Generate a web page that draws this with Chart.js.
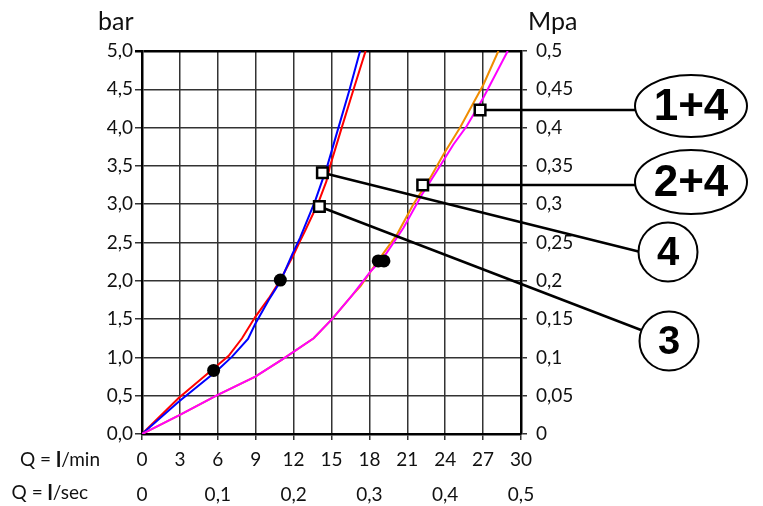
<!DOCTYPE html>
<html>
<head>
<meta charset="utf-8">
<script src="https://cdn.jsdelivr.net/npm/chart.js@4.4.0/dist/chart.umd.min.js"></script>
<style>
  html, body { margin: 0; padding: 0; background: #fff; }
  #chart { display: block; }
</style>
</head>
<body>
<canvas id="chart" width="763" height="506"></canvas>
<script>
// Pressure loss curves: flow (l/min) against pressure (bar)
const redFlow = [0, 2.9, 6.0, 6.86, 7.92, 8.97, 10.03, 10.95, 12.0, 12.51, 12.93, 13.96, 14.6, 14.89, 15.81, 16.73, 17.7];
const redBar = [0, 0.47, 0.90, 1.02, 1.25, 1.53, 1.77, 2.01, 2.34, 2.52, 2.66, 3.02, 3.30, 3.50, 4.00, 4.49, 5.0];

const blueFlow = [0, 2.9, 6.0, 7.13, 8.39, 8.97, 10.03, 10.95, 11.88, 12.51, 13.7, 14.67, 15.55, 16.42, 17.26];
const blueBar = [0, 0.42, 0.835, 1.01, 1.24, 1.44, 1.75, 1.99, 2.34, 2.56, 3.04, 3.50, 4.00, 4.49, 5.0];

const orangeFlow = [0, 3, 6, 8.97, 11.08, 13.59, 15.04, 16.63, 17.3, 18.84, 20.17, 21.48, 22.8, 23.86, 25.18, 26.23, 27.02, 28.21];
const orangeBar = [0, 0.25, 0.51, 0.75, 0.97, 1.25, 1.50, 1.81, 1.93, 2.30, 2.60, 3.0, 3.34, 3.65, 4.0, 4.32, 4.56, 5.0];

const magentaFlow = [0, 3, 6, 8.97, 11.08, 13.59, 15.04, 16.63, 18.08, 19.1, 20.69, 22.14, 23.33, 24.65, 25.71, 27.02, 28.95];
const magentaBar = [0, 0.25, 0.51, 0.75, 0.97, 1.25, 1.50, 1.81, 2.12, 2.30, 2.69, 3.12, 3.43, 3.78, 4.02, 4.39, 5.0];

const dotFlow = [5.67, 10.95, 18.7, 19.15];
const dotBar = [0.83, 2.01, 2.26, 2.26];

const markFlow = [14.28, 14.04, 22.22, 26.76];
const markBar = [3.41, 2.97, 3.25, 4.23];
const markLabels = ['4', '3', '2+4', '1+4'];

const lminTicks = ['0', '3', '6', '9', '12', '15', '18', '21', '24', '27', '30'];
const lsecTicks = ['0', '0,1', '0,2', '0,3', '0,4', '0,5'];
const barTicks = ['0,0', '0,5', '1,0', '1,5', '2,0', '2,5', '3,0', '3,5', '4,0', '4,5', '5,0'];
const mpaTicks = ['0', '0,05', '0,1', '0,15', '0,2', '0,25', '0,3', '0,35', '0,4', '0,45', '0,5'];

const FONT = 'Lato, "Open Sans", sans-serif';

function pts(xs, ys) {
    return xs.map((x, i) => ({ x: x, y: ys[i] }));
}

// label bubbles (canvas pixels), same order as markLabels
const bubbles = [
    { cx: 668, cy: 252, rx: 29.5, ry: 29.5, size: 40, ex: 638.5, ey: 251.5 },
    { cx: 669, cy: 341, rx: 29.5, ry: 29.5, size: 40, ex: 641, ey: 330 },
    { cx: 691, cy: 182, rx: 56, ry: 32, size: 44, ex: 635, ey: null },
    { cx: 691, cy: 106, rx: 56, ry: 31, size: 44, ex: 635, ey: null }
];

function curve(data, color) {
    return {
        data: data,
        showLine: true,
        borderColor: color,
        borderWidth: 2,
        pointRadius: 0,
        tension: 0
    };
}

const annotate = {
    id: 'annotate',
    afterDatasetDraw(chart, args) {
        // leader lines go under the square markers (dataset 0)
        if (args.index !== 1) return;
        const ctx = chart.ctx;
        const xs = chart.scales.x, ys = chart.scales.y;
        ctx.save();
        ctx.strokeStyle = '#000';
        ctx.lineWidth = 2.5;
        markFlow.forEach((f, i) => {
            const b = bubbles[i];
            const px = xs.getPixelForValue(f);
            const py = ys.getPixelForValue(markBar[i]);
            ctx.beginPath();
            ctx.moveTo(px, py);
            ctx.lineTo(b.ex, b.ey === null ? py : b.ey);
            ctx.stroke();
        });
        ctx.restore();
    },
    afterDraw(chart) {
        const ctx = chart.ctx;
        const area = chart.chartArea;
        ctx.save();

        // bubbles
        bubbles.forEach((b, i) => {
            ctx.beginPath();
            ctx.ellipse(b.cx, b.cy, b.rx, b.ry, 0, 0, Math.PI * 2);
            ctx.fillStyle = '#fff';
            ctx.fill();
            ctx.lineWidth = 2;
            ctx.strokeStyle = '#000';
            ctx.stroke();
            ctx.fillStyle = '#000';
            ctx.font = 'bold ' + b.size + 'px "Liberation Sans", Arial, sans-serif';
            ctx.textAlign = 'center';
            ctx.textBaseline = 'middle';
            ctx.fillText(markLabels[i], b.cx, b.cy + 2);
        });

        // axis units
        ctx.fillStyle = '#111';
        ctx.font = '25px ' + FONT;
        ctx.textAlign = 'left';
        ctx.textBaseline = 'alphabetic';
        ctx.fillText('bar', area.left - 44, 30);
        ctx.fillText('Mpa', area.right + 7, 30);

        // row captions for the two flow scales
        const rows = [['/min', area.bottom + 26, 100], ['/sec', area.bottom + 59, 88]];
        ctx.textBaseline = 'middle';
        rows.forEach(r => {
            ctx.font = '19px ' + FONT;
            const tail = r[0];
            const wTail = ctx.measureText(tail).width;
            const wHead = ctx.measureText('Q = ').width;
            ctx.font = 'bold 21px ' + FONT;
            const wL = ctx.measureText('l').width;
            let x = r[2] - wTail - wL - wHead;
            ctx.font = '19px ' + FONT;
            ctx.fillText('Q = ', x, r[1]);
            x += wHead;
            ctx.font = 'bold 21px ' + FONT;
            ctx.fillText('l', x, r[1]);
            x += wL;
            ctx.font = '19px ' + FONT;
            ctx.fillText(tail, x, r[1]);
        });
        ctx.restore();
    }
};

const gridColor = '#333';
const tickFont = { family: FONT, size: 19 };

new Chart(document.getElementById('chart'), {
    type: 'scatter',
    data: {
        datasets: [
            {
                data: pts(markFlow, markBar),
                pointStyle: 'rect',
                pointRadius: 7.5,
                backgroundColor: '#fff',
                borderColor: '#000',
                borderWidth: 2.5
            },
            {
                data: pts(dotFlow, dotBar),
                pointRadius: 6.5,
                backgroundColor: '#000',
                borderWidth: 0
            },
            curve(pts(magentaFlow, magentaBar), '#ff00ff'),
            curve(pts(orangeFlow, orangeBar), '#f08c00'),
            curve(pts(blueFlow, blueBar), '#0000ff'),
            curve(pts(redFlow, redBar), '#ff0000')
        ]
    },
    options: {
        responsive: false,
        animation: false,
        layout: { padding: { top: 51, left: 0, right: 0, bottom: 0 } },
        plugins: { legend: { display: false }, tooltip: { enabled: false } },
        scales: {
            x: {
                type: 'linear',
                position: 'bottom',
                min: 0, max: 30,
                afterFit: s => { s.height = 36; },
                ticks: {
                    stepSize: 3, autoSkip: false, maxRotation: 0,
                    padding: 8, color: '#111', font: tickFont,
                    callback: (v, i) => lminTicks[i]
                },
                grid: { color: gridColor, lineWidth: 1.5, tickLength: 6 },
                border: { color: '#000', width: 2.5 }
            },
            x2: {
                type: 'linear',
                position: 'bottom',
                min: 0, max: 0.5,
                afterFit: s => { s.height = 36; },
                ticks: {
                    stepSize: 0.1, autoSkip: false, maxRotation: 0,
                    padding: 5, color: '#111', font: tickFont,
                    callback: (v, i) => lsecTicks[i]
                },
                grid: { display: false },
                border: { display: false }
            },
            y: {
                type: 'linear',
                position: 'left',
                min: 0, max: 5,
                afterFit: s => { s.width = 142; },
                ticks: {
                    stepSize: 0.5, autoSkip: false,
                    padding: 2, color: '#111', font: tickFont,
                    callback: (v, i) => barTicks[i]
                },
                grid: {
                    color: c => (c.tick && c.tick.value === 5 ? '#000' : gridColor),
                    lineWidth: c => (c.tick && c.tick.value === 5 ? 2.5 : 1.5),
                    tickLength: 7
                },
                border: { color: '#000', width: 2.5 }
            },
            y2: {
                type: 'linear',
                position: 'right',
                min: 0, max: 0.5,
                afterFit: s => { s.width = 242; },
                ticks: {
                    stepSize: 0.05, autoSkip: false,
                    padding: 9, color: '#111', font: tickFont,
                    callback: (v, i) => mpaTicks[i]
                },
                grid: { drawOnChartArea: false, color: gridColor, lineWidth: 1.5, tickLength: 6 },
                border: { color: '#000', width: 2.5 }
            }
        }
    },
    plugins: [annotate]
});
</script>
</body>
</html>
